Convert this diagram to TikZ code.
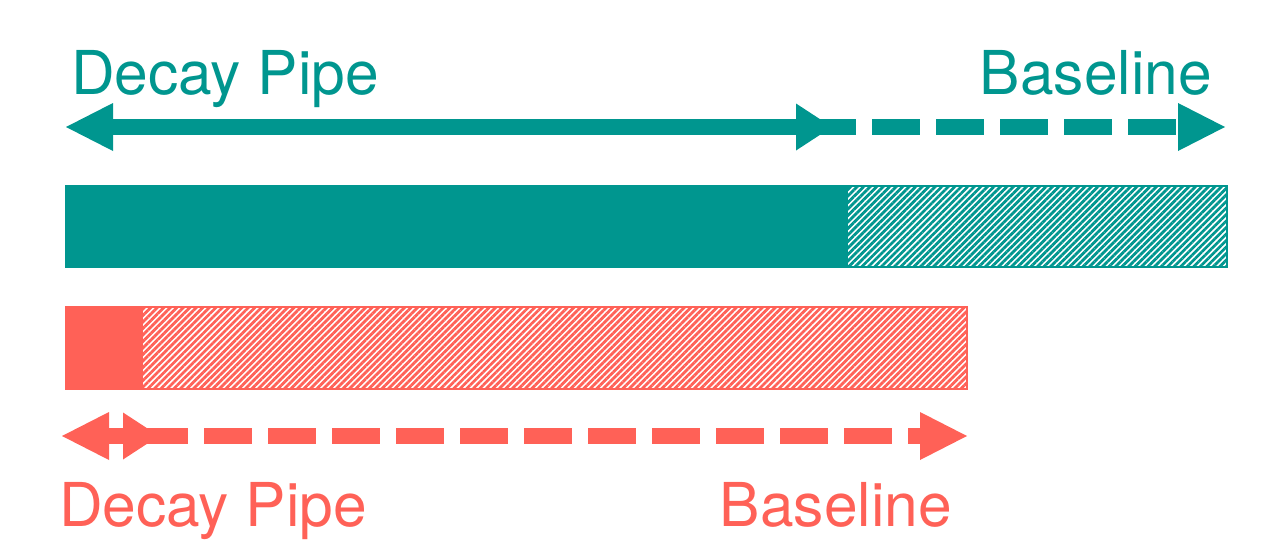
\documentclass[tikz,border=0pt]{standalone}
\usepackage{fontspec}
\setsansfont{TeX Gyre Heros}
\definecolor{pipeteal}{RGB}{0,150,143}
\definecolor{pipered}{RGB}{255,97,87}
\usetikzlibrary{arrows.meta, patterns.meta}

\begin{document}
\begin{tikzpicture}[
  x=1pt, y=-1pt,
  lbl/.style={inner sep=0pt, font=\sffamily\fontsize{60.5}{72}\selectfont},
  arr/.style={line width=16pt},
  dsh/.style={arr, dash pattern=on 48pt off 16pt},
  bigtip/.tip={Triangle[length=47pt, width=48pt, line width=0pt]},
  smalltip/.tip={Triangle[length=36pt, width=47pt, line width=0pt]},
  solidbar/.style={fill=#1, draw=none},
  hatchbar/.style={draw=#1, line width=2pt,
                   pattern={Lines[angle=45, distance=4.6pt, line width=2.8pt]}, pattern color=#1}
]
\useasboundingbox (0,0) rectangle (1261,543);

% Row 1
\node[lbl, text=pipeteal, anchor=base west] (pipeA) at (71,95) {Decay Pipe};
\node[lbl, text=pipeteal, anchor=base east] (baseA) at (1212,95) {Baseline};

\coordinate (aL) at (66,127);
\coordinate (aM) at (832,127);
\coordinate (aD) at (808,127);
\coordinate (aR) at (1225,127);
\draw[arr, pipeteal, bigtip-smalltip] (aL) -- (aM);
\draw[dsh, pipeteal, -bigtip] (aD) -- (aR);

\fill[solidbar=pipeteal] (65,185) rectangle (847,268);
\path[hatchbar=pipeteal] (847,186) rectangle (1227,267);

% Row 2
\fill[solidbar=pipered] (65,306) rectangle (142,390);
\path[hatchbar=pipered] (142,307) rectangle (967,389);

\coordinate (bL) at (62,436);
\coordinate (bM) at (159,436);
\coordinate (bD) at (140,436);
\coordinate (bR) at (967,436);
\draw[arr, pipered, bigtip-smalltip] (bL) -- (bM);
\draw[dsh, pipered, -bigtip] (bD) -- (bR);

\node[lbl, text=pipered, anchor=base west] (pipeB) at (59,526) {Decay Pipe};
\node[lbl, text=pipered, anchor=base east] (baseB) at (952,526) {Baseline};
\end{tikzpicture}
\end{document}
